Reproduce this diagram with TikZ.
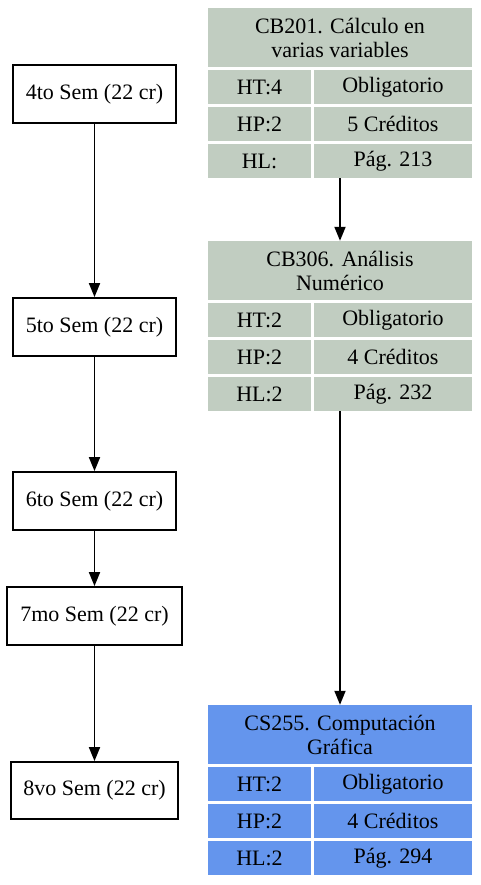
\documentclass[tikz,border=0pt]{standalone}
\usepackage{fontspec}
\setmainfont{Liberation Serif}
\usepackage{xcolor}
\usepackage{tikz}
\usetikzlibrary{
	positioning,    % posizione relativa dei nodi
	arrows.meta,    % punte delle frecce
	calc
}

\definecolor{grigioverde}{HTML}{C1CDC1}
\definecolor{azzurro}{HTML}{6495ED}

\begin{document}
\begin{tikzpicture}[
			x=1pt, y=-1pt,
			font=\fontsize{22}{24}\selectfont,
			freccia/.style={-{Triangle[length=14pt, width=11pt]}, line width=1.8pt},
			% Stile per i riquadri dei semestri
			semestre/.style={
				draw, line width=1.8pt, inner sep=0pt,
				minimum width=163pt, minimum height=58pt
			},
			% Stili per le celle delle tabelle dei corsi
			titolo/.style={inner sep=0pt, align=center, minimum width=264pt, minimum height=59pt},
			cella_sx/.style={inner sep=0pt, minimum width=103pt, minimum height=34pt},
			cella_dx/.style={inner sep=0pt, minimum width=158pt, minimum height=34pt}
			]
			
			\useasboundingbox (0,0) rectangle (480,885);
			
			% --- Semestri ---
			\node[semestre] (sem4) at (94.5,94) {4to Sem (22 cr)};
			\node[semestre] (sem5) at (94.5,327) {5to Sem (22 cr)};
			\node[semestre] (sem6) at (94.5,501) {6to Sem (22 cr)};
			\node[semestre, minimum width=175pt] (sem7) at (94.5,616) {7mo Sem (22 cr)};
			\node[semestre, minimum width=167pt, minimum height=57pt] (sem8) at (94.5,790.5) {8vo Sem (22 cr)};
			
			\draw[freccia] (sem4) -- (sem5);
			\draw[freccia] (sem5) -- (sem6);
			\draw[freccia] (sem6) -- (sem7);
			\draw[freccia] (sem7) -- (sem8);
			
			% --- Corso CB201 ---
			\node[titolo, fill=grigioverde] (cb201) at (340,37.5) {CB201. Cálculo en\\varias variables};
			\node[cella_sx, fill=grigioverde] (ht201) at (259.5,87) {HT:4};
			\node[cella_dx, fill=grigioverde] (tipo201) at (393,87) {Obligatorio};
			\node[cella_sx, fill=grigioverde] (hp201) at (259.5,124) {HP:2};
			\node[cella_dx, fill=grigioverde] (cr201) at (393,124) {5 Créditos};
			\node[cella_sx, fill=grigioverde] (hl201) at (259.5,161) {HL:};
			\node[cella_dx, fill=grigioverde] (pag201) at (393,161) {Pág. 213};
			
			% --- Corso CB306 ---
			\node[titolo, fill=grigioverde] (cb306) at (340,270.5) {CB306. Análisis\\Numérico};
			\node[cella_sx, fill=grigioverde] (ht306) at (259.5,320) {HT:2};
			\node[cella_dx, fill=grigioverde] (tipo306) at (393,320) {Obligatorio};
			\node[cella_sx, fill=grigioverde] (hp306) at (259.5,357) {HP:2};
			\node[cella_dx, fill=grigioverde] (cr306) at (393,357) {4 Créditos};
			\node[cella_sx, fill=grigioverde] (hl306) at (259.5,394) {HL:2};
			\node[cella_dx, fill=grigioverde] (pag306) at (393,394) {Pág. 232};
			
			% --- Corso CS255 ---
			\node[titolo, fill=azzurro] (cs255) at (340,734.5) {CS255. Computación\\Gráfica};
			\node[cella_sx, fill=azzurro] (ht255) at (259.5,784) {HT:2};
			\node[cella_dx, fill=azzurro] (tipo255) at (393,784) {Obligatorio};
			\node[cella_sx, fill=azzurro] (hp255) at (259.5,821) {HP:2};
			\node[cella_dx, fill=azzurro] (cr255) at (393,821) {4 Créditos};
			\node[cella_sx, fill=azzurro] (hl255) at (259.5,858) {HL:2};
			\node[cella_dx, fill=azzurro] (pag255) at (393,858) {Pág. 294};
			
			% --- Prerequisiti ---
			\draw[freccia] (cb201.center |- pag201.south) -- (cb306.north);
			\draw[freccia] (cb306.center |- pag306.south) -- (cs255.north);
			
		\end{tikzpicture}
\end{document}
